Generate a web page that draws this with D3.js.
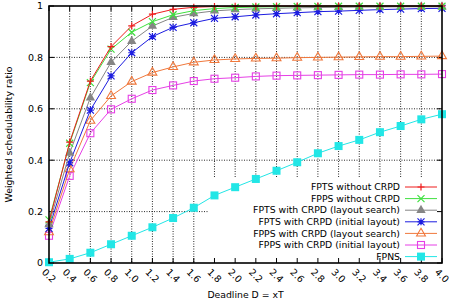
<!DOCTYPE html>
<html>
<head>
<meta charset="utf-8">
<script src="https://cdn.jsdelivr.net/npm/d3@7"></script>
<style>
  body { margin: 0; background: #fff; }
  text { font-family: "DejaVu Sans", sans-serif; }
</style>
</head>
<body>
<div id="chart"></div>
<script>
const width = 453, height = 302;
const margin = {top: 6, right: 10, bottom: 39, left: 49};

// deadline factors
const deadlines = [0.2, 0.4, 0.6, 0.8, 1.0, 1.2, 1.4, 1.6, 1.8, 2.0, 2.2, 2.4, 2.6, 2.8, 3.0, 3.2, 3.4, 3.6, 3.8, 4.0];
const xTickLabels = deadlines.map(d => d.toFixed(1));
const yTicks = [0, 0.2, 0.4, 0.6, 0.8, 1];
const yTickLabels = ["0", "0.2", "0.4", "0.6", "0.8", "1"];

const fptsNoCrpd   = [0.160, 0.470, 0.708, 0.842, 0.923, 0.968, 0.987, 0.995, 0.998, 0.999, 0.999, 1.000, 1.000, 1.000, 1.000, 1.000, 1.000, 1.000, 1.000, 1.000];
const fppsNoCrpd   = [0.168, 0.466, 0.702, 0.832, 0.898, 0.939, 0.966, 0.982, 0.990, 0.994, 0.996, 0.997, 0.998, 0.998, 0.999, 0.999, 0.999, 0.999, 0.999, 0.999];
const fptsSearch   = [0.150, 0.428, 0.643, 0.781, 0.863, 0.922, 0.956, 0.971, 0.981, 0.986, 0.989, 0.991, 0.993, 0.994, 0.995, 0.996, 0.996, 0.997, 0.997, 0.997];
const fptsInitial  = [0.135, 0.390, 0.595, 0.728, 0.818, 0.881, 0.917, 0.935, 0.952, 0.958, 0.965, 0.970, 0.974, 0.978, 0.980, 0.983, 0.986, 0.988, 0.990, 0.991];
const fppsSearch   = [0.120, 0.365, 0.554, 0.650, 0.706, 0.741, 0.763, 0.781, 0.790, 0.794, 0.796, 0.797, 0.799, 0.800, 0.801, 0.802, 0.803, 0.803, 0.804, 0.805];
const fppsInitial  = [0.106, 0.339, 0.505, 0.598, 0.639, 0.673, 0.691, 0.708, 0.717, 0.721, 0.726, 0.729, 0.730, 0.731, 0.732, 0.733, 0.733, 0.734, 0.734, 0.735];
const fpns         = [0.003, 0.016, 0.040, 0.073, 0.106, 0.139, 0.175, 0.215, 0.263, 0.295, 0.327, 0.359, 0.392, 0.427, 0.455, 0.479, 0.509, 0.533, 0.559, 0.579];

const seriesNames = ["FPTS without CRPD", "FPPS without CRPD", "FPTS with CRPD (layout search)",
  "FPTS with CRPD (initial layout)", "FPPS with CRPD (layout search)", "FPPS with CRPD (initial layout)", "FPNS"];
const seriesValues = [fptsNoCrpd, fppsNoCrpd, fptsSearch, fptsInitial, fppsSearch, fppsInitial, fpns];
const colors = ["#ee1c1c", "#40e040", "#858585", "#1c1ce0", "#f0783c", "#e640e6", "#22e6e6"];
const markers = ["plus", "cross", "triangle", "star", "triangleOpen", "squareOpen", "squareFilled"];

const series = seriesNames.map((name, i) => ({
  name, color: colors[i], marker: markers[i],
  values: deadlines.map((d, j) => ({x: d, y: seriesValues[i][j]}))
}));

const x = d3.scaleLinear().domain([0.2, 4.0]).range([margin.left, width - margin.right - 1]);
const y = d3.scaleLinear().domain([0, 1]).range([height - margin.bottom, margin.top]);

const svg = d3.select("#chart").append("svg")
    .attr("width", width).attr("height", height);

// area hidden by the key box
const keyBox = {x0: 208, y0: 178};

const grid = svg.append("g")
    .attr("stroke", "#111")
    .attr("stroke-width", 0.9)
    .attr("stroke-dasharray", "1,1.5");

grid.selectAll("line.v")
  .data(deadlines.slice(1, -1))
  .join("line")
    .attr("x1", d => x(d)).attr("x2", d => x(d))
    .attr("y1", y(1))
    .attr("y2", d => x(d) > keyBox.x0 ? keyBox.y0 : y(0));

grid.selectAll("line.h")
  .data(yTicks.slice(1, -1))
  .join("line")
    .attr("x1", x(0.2))
    .attr("x2", d => y(d) > keyBox.y0 ? keyBox.x0 : x(4.0))
    .attr("y1", d => y(d)).attr("y2", d => y(d));

// tick marks
const ticks = svg.append("g").attr("stroke", "#000").attr("stroke-width", 1);
ticks.selectAll("line.xb").data(deadlines).join("line")
    .attr("x1", d => x(d)).attr("x2", d => x(d))
    .attr("y1", y(0)).attr("y2", y(0) - 5);
ticks.selectAll("line.xt").data(deadlines).join("line")
    .attr("x1", d => x(d)).attr("x2", d => x(d))
    .attr("y1", y(1)).attr("y2", y(1) + 5);
ticks.selectAll("line.yl").data(yTicks).join("line")
    .attr("x1", x(0.2)).attr("x2", x(0.2) + 5)
    .attr("y1", d => y(d)).attr("y2", d => y(d));
ticks.selectAll("line.yr").data(yTicks).join("line")
    .attr("x1", x(4.0)).attr("x2", x(4.0) - 5)
    .attr("y1", d => y(d)).attr("y2", d => y(d));

// tick labels
svg.append("g").selectAll("text")
  .data(yTicks)
  .join("text")
    .attr("x", x(0.2) - 6)
    .attr("y", d => y(d))
    .attr("dy", "0.35em")
    .attr("text-anchor", "end")
    .attr("font-size", 9.5)
    .text((d, i) => yTickLabels[i]);

svg.append("g").selectAll("text")
  .data(deadlines)
  .join("text")
    .attr("transform", d => `translate(${x(d) - 3},${y(0) + 5}) rotate(45)`)
    .attr("dy", "0.7em")
    .attr("font-size", 9.5)
    .text((d, i) => xTickLabels[i]);

// axis titles
svg.append("text")
    .attr("transform", `translate(12,${(y(0) + y(1)) / 2}) rotate(-90)`)
    .attr("text-anchor", "middle")
    .attr("font-size", 9.3)
    .text("Weighted schedulability ratio");

svg.append("text")
    .attr("x", (x(0.2) + x(4.0)) / 2)
    .attr("y", 298)
    .attr("text-anchor", "middle")
    .attr("font-size", 9.3)
    .text("Deadline D = xT");

function drawMarker(g, type, color) {
  const s = 3.5;
  if (type === "plus") {
    g.append("path").attr("d", `M${-s},0H${s}M0,${-s}V${s}`).attr("stroke", color).attr("stroke-width", 1.2);
  } else if (type === "cross") {
    g.append("path").attr("d", `M${-s},${-s}L${s},${s}M${-s},${s}L${s},${-s}`).attr("stroke", color).attr("stroke-width", 1.2);
  } else if (type === "star") {
    g.append("path").attr("d", `M${-s},0H${s}M0,${-s}V${s}M${-s},${-s}L${s},${s}M${-s},${s}L${s},${-s}`).attr("stroke", color).attr("stroke-width", 1.2);
  } else if (type === "triangle") {
    g.append("path").attr("d", d3.symbol(d3.symbolTriangle, 38)()).attr("fill", color);
  } else if (type === "triangleOpen") {
    g.append("path").attr("d", d3.symbol(d3.symbolTriangle, 34)()).attr("fill", "none").attr("stroke", color).attr("stroke-width", 1.1);
  } else if (type === "squareOpen") {
    g.append("rect").attr("x", -s).attr("y", -s).attr("width", 2 * s).attr("height", 2 * s)
      .attr("fill", "none").attr("stroke", color).attr("stroke-width", 1.1);
  } else if (type === "squareFilled") {
    g.append("rect").attr("x", -s - 0.5).attr("y", -s - 0.5).attr("width", 2 * s + 1).attr("height", 2 * s + 1).attr("fill", color);
  }
}

const line = d3.line().x(d => x(d.x)).y(d => y(d.y));

// draw bottom series first so the top ones sit above
const plot = svg.append("g");
series.slice().reverse().forEach(s => {
  plot.append("path")
    .datum(s.values)
    .attr("fill", "none")
    .attr("stroke", s.color)
    .attr("stroke-width", 1)
    .attr("d", line);
  plot.append("g").selectAll("g")
    .data(s.values)
    .join("g")
      .attr("transform", d => `translate(${x(d.x)},${y(d.y)})`)
      .each(function() { drawMarker(d3.select(this), s.marker, s.color); });
});

// key
const key = svg.append("g");
series.forEach((s, i) => {
  const ky = 187 + i * 11.6;
  key.append("text")
    .attr("x", 400).attr("y", ky).attr("dy", "0.35em")
    .attr("text-anchor", "end").attr("font-size", 9.3)
    .text(s.name);
  key.append("line")
    .attr("x1", 405).attr("x2", 437).attr("y1", ky).attr("y2", ky)
    .attr("stroke", s.color).attr("stroke-width", 1);
  drawMarker(key.append("g").attr("transform", `translate(421,${ky})`), s.marker, s.color);
});

// border
svg.append("rect")
    .attr("x", x(0.2)).attr("y", y(1))
    .attr("width", x(4.0) - x(0.2)).attr("height", y(0) - y(1))
    .attr("fill", "none").attr("stroke", "#000").attr("stroke-width", 1.6);
</script>
</body>
</html>
